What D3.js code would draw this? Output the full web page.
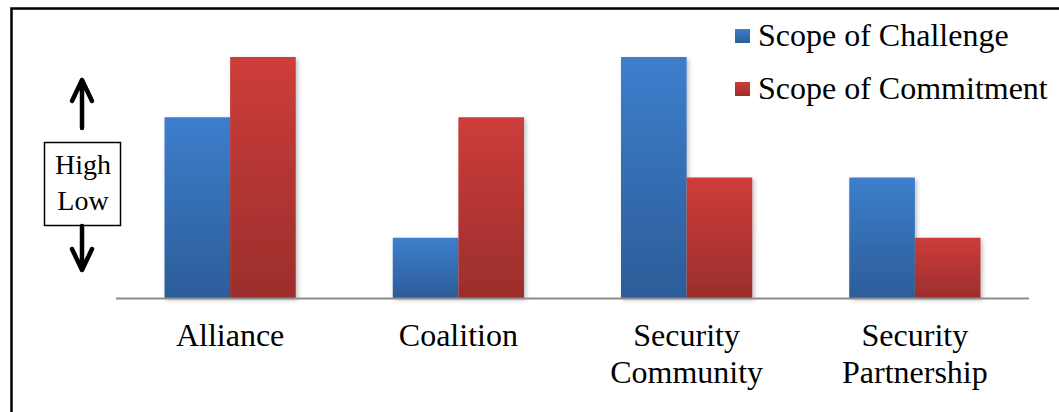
<!DOCTYPE html>
<html>
<head>
<meta charset="utf-8">
<script src="https://cdn.jsdelivr.net/npm/d3@7"></script>
<style>
  body { margin: 0; background: white; }
</style>
</head>
<body>
<div id="chart"></div>
<script>
const categories = [["Alliance"], ["Coalition"], ["Security", "Community"], ["Security", "Partnership"]];
const seriesNames = ["Scope of Challenge", "Scope of Commitment"];
const challenge = [3, 1, 4, 2];
const commitment = [4, 3, 2, 1];

const width = 1059;
const height = 412;
const serif = "'Liberation Serif', 'Times New Roman', Times, serif";

const svg = d3.select("#chart")
  .append("svg")
  .attr("width", width)
  .attr("height", height);

const defs = svg.append("defs");
const grads = [
  { id: "gBlue", top: "#3d7ecc", bottom: "#2c5d99" },
  { id: "gRed", top: "#cd3d3a", bottom: "#9b2e2c" }
];
grads.forEach(g => {
  const lg = defs.append("linearGradient").attr("id", g.id)
    .attr("x1", 0).attr("y1", 0).attr("x2", 0).attr("y2", 1);
  lg.append("stop").attr("offset", "0%").attr("stop-color", g.top);
  lg.append("stop").attr("offset", "100%").attr("stop-color", g.bottom);
});
defs.append("filter").attr("id", "shadow")
  .attr("x", "-20%").attr("y", "-20%").attr("width", "150%").attr("height", "150%")
  .append("feDropShadow")
  .attr("dx", 2).attr("dy", 2).attr("stdDeviation", 2)
  .attr("flood-color", "#000").attr("flood-opacity", 0.25);

// outer frame (only top & left visible in the crop)
svg.append("rect")
  .attr("x", 11.5).attr("y", 8.5)
  .attr("width", width + 20).attr("height", height + 20)
  .attr("fill", "none").attr("stroke", "#000").attr("stroke-width", 2.5);

const x = d3.scaleBand()
  .domain(d3.range(categories.length))
  .range([116, 1029])
  .paddingInner(0.425)
  .paddingOuter(0.2125);

const x1 = d3.scaleBand()
  .domain([0, 1])
  .range([0, x.bandwidth()]);

const y = d3.scaleLinear()
  .domain([0, 4])
  .range([298, 57]);

const series = [challenge, commitment];
const fills = ["url(#gBlue)", "url(#gRed)"];

series.forEach((vals, s) => {
  svg.append("g")
    .attr("fill", fills[s])
    .attr("filter", "url(#shadow)")
    .selectAll("rect")
    .data(vals)
    .join("rect")
    .attr("x", (d, i) => x(i) + x1(s))
    .attr("y", d => y(d))
    .attr("width", x1.bandwidth())
    .attr("height", d => y(0) - y(d));
});

// baseline
svg.append("line")
  .attr("x1", 116).attr("x2", 1029)
  .attr("y1", y(0) + 0.5).attr("y2", y(0) + 0.5)
  .attr("stroke", "#8c8c8c").attr("stroke-width", 2);

// category labels
categories.forEach((lines, i) => {
  const cx = x(i) + x.bandwidth() / 2;
  const t = svg.append("text")
    .attr("text-anchor", "middle")
    .attr("font-family", serif)
    .attr("font-size", 32)
    .attr("x", cx)
    .attr("y", 346);
  lines.forEach((ln, j) => {
    t.append("tspan")
      .attr("x", cx)
      .attr("dy", j === 0 ? 0 : 37)
      .text(ln);
  });
});

// legend
const legend = svg.append("g");
seriesNames.forEach((name, s) => {
  const ly = 36 + s * 53;
  legend.append("rect")
    .attr("x", 735).attr("y", ly - 7)
    .attr("width", 15).attr("height", 14)
    .attr("fill", fills[s]);
  legend.append("text")
    .attr("x", 758).attr("y", ly + 10)
    .attr("font-family", serif)
    .attr("font-size", 32)
    .text(name);
});

// High / Low indicator
const ind = svg.append("g");
ind.append("rect")
  .attr("x", 44.5).attr("y", 142.5)
  .attr("width", 76).attr("height", 83)
  .attr("fill", "white").attr("stroke", "#000").attr("stroke-width", 1.5);
ind.append("text").attr("x", 83).attr("y", 174)
  .attr("font-family", serif)
  .attr("text-anchor", "middle").attr("font-size", 28).text("High");
ind.append("text").attr("x", 83).attr("y", 210)
  .attr("font-family", serif)
  .attr("text-anchor", "middle").attr("font-size", 28).text("Low");

const arrowStyle = sel => sel.attr("fill", "none").attr("stroke", "#000")
  .attr("stroke-width", 4.5).attr("stroke-linecap", "round").attr("stroke-linejoin", "round");
// up arrow
ind.append("path").attr("d", "M82,128 L82,80 M72,101 L82,80 L92,101").call(arrowStyle);
// down arrow
ind.append("path").attr("d", "M82,226 L82,270 M72,249 L82,270 L92,249").call(arrowStyle);
</script>
</body>
</html>
